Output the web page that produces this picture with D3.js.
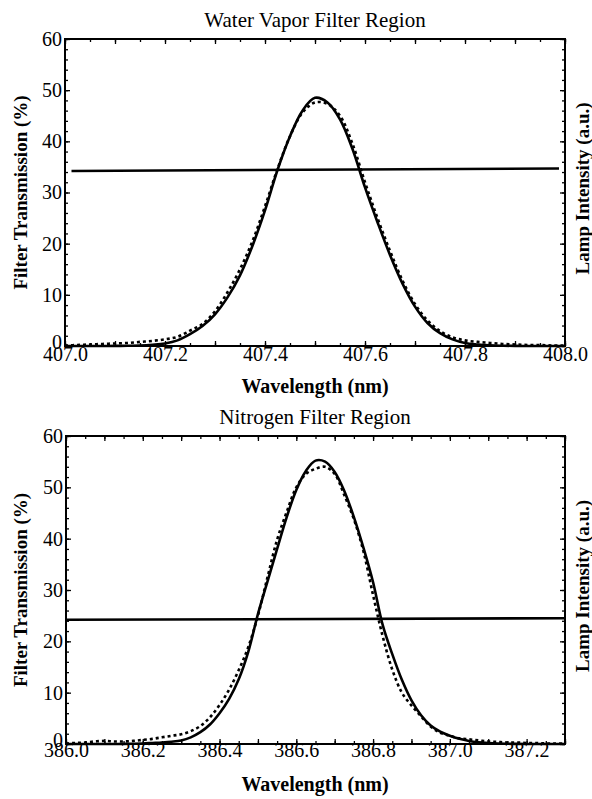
<!DOCTYPE html>
<html>
<head>
<meta charset="utf-8">
<script src="https://cdn.jsdelivr.net/npm/d3@7"></script>
<style>
  body { margin: 0; background: #fff; }
  svg text { font-family: "Liberation Serif", "Times New Roman", Tinos, "DejaVu Serif", serif; fill: #000; }
</style>
</head>
<body>
<div id="chart"></div>
<script>
// --- water vapor panel ---
const waterWl = [
  407.0, 407.025, 407.05, 407.075, 407.1, 407.125, 407.15, 407.175, 407.2, 407.225,
  407.25, 407.275, 407.3, 407.325, 407.35, 407.375, 407.4, 407.425, 407.45, 407.475,
  407.5, 407.525, 407.55, 407.575, 407.6, 407.625, 407.65, 407.675, 407.7, 407.725,
  407.75, 407.775, 407.8, 407.825, 407.85, 407.875, 407.9, 407.925, 407.95, 407.975, 408.0
]
const waterFit = [
  0, 0, 0, 0, 0.02, 0.05, 0.1, 0.25, 0.5, 1.1,
  2.3, 3.9, 6.2, 9.5, 13.8, 19.6, 26.5, 34.4, 41.0, 46.0,
  48.5, 47.6, 44.3, 38.5, 31.0, 24.2, 17.8, 12.2, 7.7, 4.5,
  2.5, 1.3, 0.6, 0.3, 0.12, 0.05, 0.02, 0, 0, 0, 0
]
const waterMeas = [
  0.1, 0.2, 0.3, 0.4, 0.5, 0.6, 0.8, 1.0, 1.3, 1.8,
  3.0, 4.3, 6.8, 10.5, 15.0, 20.5, 27.3, 34.6, 41.0, 45.6,
  47.6, 47.3, 45.0, 39.5, 32.0, 25.0, 18.6, 12.8, 8.2, 5.0,
  2.9, 1.7, 1.1, 0.8, 0.6, 0.4, 0.3, 0.2, 0.2, 0.1, 0.1
]
const waterLampWl = [407.013, 407.988]
const waterLamp = [34.2, 34.7]
const waterTicks = [407.0, 407.2, 407.4, 407.6, 407.8, 408.0]

// --- nitrogen panel ---
const n2Wl = [
  386.0, 386.025, 386.05, 386.075, 386.1, 386.125, 386.15, 386.175, 386.2, 386.225,
  386.25, 386.275, 386.3, 386.325, 386.35, 386.375, 386.4, 386.425, 386.45, 386.475,
  386.5, 386.525, 386.55, 386.575, 386.6, 386.625, 386.65, 386.675, 386.7, 386.725,
  386.75, 386.775, 386.8, 386.825, 386.85, 386.875, 386.9, 386.925, 386.95, 386.975,
  387.0, 387.025, 387.05, 387.075, 387.1, 387.125, 387.15, 387.175, 387.2, 387.225,
  387.25, 387.275, 387.3
]
const n2Fit = [
  0, 0, 0, 0, 0, 0, 0.02, 0.05, 0.1, 0.2,
  0.3, 0.45, 0.7, 1.3, 2.3, 3.8, 6.0, 8.8, 12.6, 18.0,
  25.3, 31.7, 38.0, 44.2, 49.5, 53.2, 55.2, 55.0, 53.0, 49.3,
  44.2, 38.2, 31.5, 23.2, 17.5, 12.5, 8.5, 5.6, 3.6, 2.4,
  1.6, 1.0, 0.6, 0.35, 0.2, 0.1, 0.05, 0.02, 0, 0,
  0, 0, 0
]
const n2Meas = [
  0.1, 0.2, 0.3, 0.5, 0.6, 0.5, 0.5, 0.6, 0.8, 1.0,
  1.3, 1.6, 1.9, 2.5, 3.5, 5.2, 7.6, 10.6, 14.4, 18.9,
  25.0, 32.5, 39.8, 45.2, 50.0, 52.6, 53.6, 54.0, 52.6, 48.5,
  43.8, 37.5, 29.0, 21.0, 14.5, 10.0, 7.5, 5.4, 3.4, 2.2,
  1.6, 1.1, 0.9, 0.7, 0.5, 0.4, 0.3, 0.3, 0.2, 0.2,
  0.1, 0.1, 0.1
]
const n2LampWl = [386.0, 387.3]
const n2Lamp = [24.2, 24.5]
const n2Ticks = [386.0, 386.2, 386.4, 386.6, 386.8, 387.0, 387.2]

const yMajor = [0, 10, 20, 30, 40, 50, 60]

const serif = '"Liberation Serif", "Times New Roman", Tinos, "DejaVu Serif", serif'

const svg = d3.select('#chart')
  .append('svg')
  .attr('width', 592)
  .attr('height', 799)
  .attr('font-family', serif)

drawPanel({
  left: 65, top: 39, right: 565, bottom: 346,
  domain: [407.0, 408.0],
  ticks: waterTicks,
  wl: waterWl, fit: waterFit, meas: waterMeas,
  lampWl: waterLampWl, lamp: waterLamp,
  title: 'Water Vapor Filter Region',
  labelPad: 1
})

drawPanel({
  left: 66, top: 436, right: 565, bottom: 744,
  domain: [386.0, 387.3],
  ticks: n2Ticks,
  wl: n2Wl, fit: n2Fit, meas: n2Meas,
  lampWl: n2LampWl, lamp: n2Lamp,
  title: 'Nitrogen Filter Region',
  labelPad: -1
})

function drawPanel(p) {
  const width = p.right - p.left
  const height = p.bottom - p.top

  const x = d3.scaleLinear().domain(p.domain).range([0, width])
  const y = d3.scaleLinear().domain([0, 60]).range([height, 0])

  const g = svg.append('g')
    .attr('transform', `translate(${p.left},${p.top})`)

  // tick values every 0.05 nm / 2 %
  const nMinor = Math.round((p.domain[1] - p.domain[0]) / 0.05)
  const xMinor = d3.range(nMinor + 1).map(i => +(p.domain[0] + i * 0.05).toFixed(3))
  const xMid = xMinor.filter((d, i) => i % 2 === 0)
  const yMinor = d3.range(0, 61, 2)

  const tickAxes = [
    [d3.axisBottom(x).tickValues(xMinor).tickSize(-3), `translate(0,${height})`],
    [d3.axisBottom(x).tickValues(xMid).tickSize(-5), `translate(0,${height})`],
    [d3.axisTop(x).tickValues(xMinor).tickSize(-3), null],
    [d3.axisTop(x).tickValues(xMid).tickSize(-5), null],
    [d3.axisLeft(y).tickValues(yMinor).tickSize(-3), null],
    [d3.axisLeft(y).tickValues(yMajor).tickSize(-5), null],
    [d3.axisRight(y).tickValues(yMinor).tickSize(-3), `translate(${width},0)`],
    [d3.axisRight(y).tickValues(yMajor).tickSize(-5), `translate(${width},0)`]
  ]
  tickAxes.forEach(([ax, tr]) => {
    const a = g.append('g').call(ax.tickFormat(''))
    if (tr) a.attr('transform', tr)
    a.select('.domain').remove()
    a.selectAll('line').attr('stroke', '#000').attr('stroke-width', 1.3)
  })

  // tick labels
  const xLab = g.append('g')
    .attr('transform', `translate(0,${height})`)
    .call(d3.axisBottom(x).tickValues(p.ticks).tickSize(0).tickPadding(p.labelPad).tickFormat(d3.format('.1f')))
  xLab.attr('font-family', serif).attr('font-size', 20)
  xLab.select('.domain').remove()

  const yLab = g.append('g')
    .call(d3.axisLeft(y).tickValues(yMajor).tickSize(0).tickPadding(3))
  yLab.attr('font-family', serif).attr('font-size', 20)
  yLab.select('.domain').remove()
  // the "0" sits a little above its tick, clear of the first x label
  yLab.selectAll('.tick').filter(d => d === 0).select('text').attr('dy', '0.1em')

  // frame
  g.append('rect')
    .attr('width', width)
    .attr('height', height)
    .attr('fill', 'none')
    .attr('stroke', '#000')
    .attr('stroke-width', 2)

  const line = d3.line()
    .x(d => x(d[0]))
    .y(d => y(d[1]))
    .curve(d3.curveCatmullRom.alpha(0.5))

  // lamp intensity
  g.append('path')
    .datum(d3.zip(p.lampWl, p.lamp))
    .attr('d', line)
    .attr('fill', 'none')
    .attr('stroke', '#000')
    .attr('stroke-width', 2.6)

  // measured (dashed)
  g.append('path')
    .datum(d3.zip(p.wl, p.meas))
    .attr('d', line)
    .attr('fill', 'none')
    .attr('stroke', '#000')
    .attr('stroke-width', 2.6)
    .attr('stroke-dasharray', '3,3')

  // fit (solid)
  g.append('path')
    .datum(d3.zip(p.wl, p.fit))
    .attr('d', line)
    .attr('fill', 'none')
    .attr('stroke', '#000')
    .attr('stroke-width', 2.6)

  // titles
  g.append('text')
    .text(p.title)
    .attr('x', 315 - p.left)
    .attr('y', -12)
    .attr('text-anchor', 'middle')
    .attr('font-size', 21)

  g.append('text')
    .text('Wavelength (nm)')
    .attr('x', 315 - p.left)
    .attr('y', height + 47)
    .attr('text-anchor', 'middle')
    .attr('font-size', 20)
    .attr('font-weight', 'bold')

  g.append('text')
    .text('Filter Transmission (%)')
    .attr('transform', `translate(${27 - p.left},${height / 2}) rotate(-90)`)
    .attr('text-anchor', 'middle')
    .attr('font-size', 19)
    .attr('font-weight', 'bold')

  g.append('text')
    .text('Lamp Intensity (a.u.)')
    .attr('transform', `translate(${589 - p.left},${height / 2 - 4}) rotate(-90)`)
    .attr('text-anchor', 'middle')
    .attr('font-size', 19)
    .attr('font-weight', 'bold')
}
</script>
</body>
</html>
